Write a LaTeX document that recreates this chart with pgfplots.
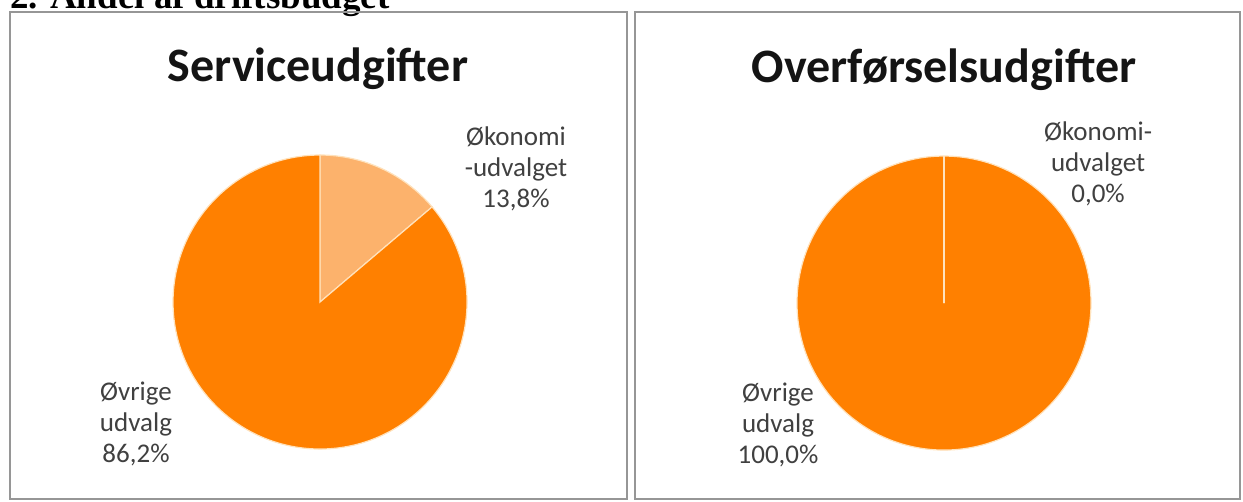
\documentclass[border=0pt]{standalone}
\usepackage{pgfplots}
\pgfplotsset{compat=1.18}
\usepackage{pgfplotstable}
\usepackage{fontspec}
\setmainfont{Carlito}
\newfontfamily\headfont{Liberation Serif}
\definecolor{darkor}{RGB}{255,128,0}
\definecolor{lightor}{RGB}{252,178,108}
\definecolor{sep}{RGB}{255,226,188}
\definecolor{labeltext}{RGB}{64,64,64}
\definecolor{titletext}{RGB}{20,20,20}
\definecolor{frame}{RGB}{150,150,150}

% shares in percent
\pgfplotstableread{
part value
Okonomiudvalget 13.8
Ovrigeudvalg 86.2
}\serviceTab
\pgfplotstableread{
part value
Okonomiudvalget 0.0
Ovrigeudvalg 100.0
}\overTab

\pgfplotstablegetelem{0}{value}\of\serviceTab
\pgfmathsetmacro\sEnd{90-3.6*\pgfplotsretval}
\pgfplotstablegetelem{0}{value}\of\overTab
\pgfmathsetmacro\oEnd{90-3.6*\pgfplotsretval}
\def\R{147pt}

\pgfplotsset{panel/.style={
  anchor=south west, x=147pt, y=147pt,
  xtick=\empty, ytick=\empty,
  axis line style={draw=frame, line width=1.5pt},
  clip=false}}
\tikzset{lbl/.style={align=center, inner sep=0pt, text=labeltext,
  font=\fontsize{27}{31}\selectfont},
  ttl/.style={anchor=base, inner sep=0pt, text=titletext,
  font=\bfseries\fontsize{48}{52}\selectfont}}

\begin{document}
\begin{tikzpicture}
\path[use as bounding box] (0pt,0pt) rectangle (1243pt,-501pt);
\node[anchor=base west, inner sep=0pt, font=\headfont\bfseries\fontsize{37}{40}\selectfont] at (10pt,-8pt) {2. Andel af driftsbudget};

\begin{axis}[panel, at={(10pt,-499pt)},
  xmin=-2.109, xmax=2.088, ymin=-1.340, ymax=1.973]
  \filldraw[fill=lightor, draw=sep, line width=1.2pt] (axis cs:0,0) -- (axis cs:0,1) arc[start angle=90, end angle=\sEnd, radius=\R] -- cycle;
  \filldraw[fill=darkor, draw=sep, line width=1.2pt] (axis cs:0,0) -- ([shift={(\sEnd:\R)}]axis cs:0,0) arc[start angle=\sEnd, end angle=-270, radius=\R] -- cycle;
  \node[ttl] at (axis cs:-0.014,1.497) {Serviceudgifter};
  \node[lbl] at (axis cs:1.333,0.908) {Økonomi\\-udvalget\\13,8\%};
  \node[lbl] at (axis cs:-1.252,-0.827) {Øvrige\\udvalg\\86,2\%};
\end{axis}

\begin{axis}[panel, at={(635pt,-499pt)},
  xmin=-2.102, xmax=2.014, ymin=-1.333, ymax=1.980]
  \filldraw[fill=darkor, draw=sep, line width=1.2pt] (axis cs:0,0) -- ([shift={(\oEnd:\R)}]axis cs:0,0) arc[start angle=\oEnd, end angle=-270, radius=\R] -- cycle;
  \filldraw[fill=lightor, draw=sep, line width=1.2pt] (axis cs:0,0) -- (axis cs:0,1) arc[start angle=90, end angle=\oEnd, radius=\R] -- cycle;
  \node[ttl] at (axis cs:0,1.503) {Overførselsudgifter};
  \node[lbl] at (axis cs:1.048,0.949) {Økonomi-\\udvalget\\0,0\%};
  \node[lbl] at (axis cs:-1.129,-0.830) {Øvrige\\udvalg\\100,0\%};
\end{axis}
\end{tikzpicture}
\end{document}
